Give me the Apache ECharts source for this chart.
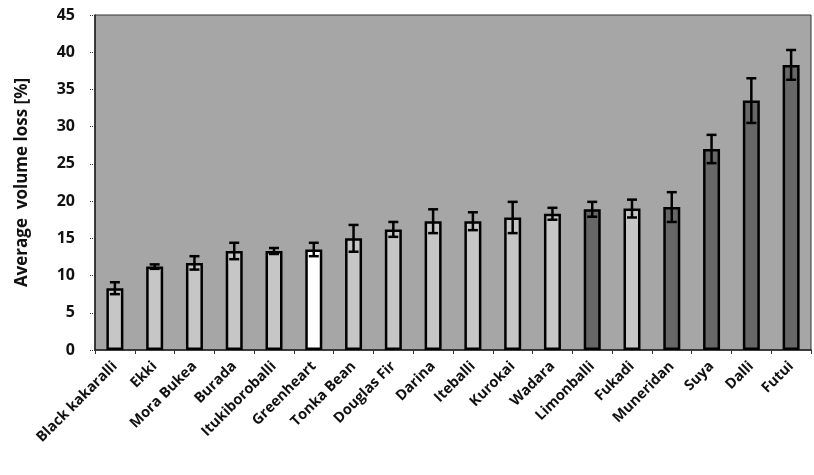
<!DOCTYPE html>
<html>
<head>
<meta charset="utf-8">
<script src="https://cdn.jsdelivr.net/npm/echarts@6/dist/echarts.min.js"></script>
<style>
  html, body { margin: 0; padding: 0; background: #ffffff; }
  #chart { width: 814px; height: 475px; }
</style>
</head>
<body>
<div id="chart"></div>
<script>
// Especies de madera (eje X)
const species = [
  "Black kakaralli", "Ekki", "Mora Bukea", "Burada", "Itukiboroballi",
  "Greenheart", "Tonka Bean", "Douglas Fir", "Darina", "Iteballi",
  "Kurokai", "Wadara", "Limonballi", "Fukadi", "Muneridan",
  "Suya", "Dalli", "Futui"
];

// Pérdida media de volumen [%]
const meanLoss = [
  8.3, 11.2, 11.7, 13.3, 13.3,
  13.5, 15.0, 16.2, 17.3, 17.3,
  17.8, 18.3, 18.9, 19.0, 19.2,
  27.0, 33.5, 38.3
];

// Desviación (barras de error)
const errLoss = [
  0.8, 0.3, 0.9, 1.1, 0.4,
  0.9, 1.8, 1.0, 1.6, 1.2,
  2.1, 0.8, 1.0, 1.2, 2.0,
  1.9, 3.0, 2.0
];

// Tono de relleno de cada barra: 0 = claro, 1 = blanco, 2 = oscuro
const barShade = [
  0, 0, 0, 0, 0,
  1, 0, 0, 0, 0,
  0, 0, 2, 0, 2,
  2, 2, 2
];

const yTicks = { min: 0, max: 45, interval: 5 };

const shadeColors = ["#c6c6c6", "#ffffff", "#676767"];

const chart = echarts.init(document.getElementById("chart"));

const option = {
  backgroundColor: "#ffffff",
  animation: false,
  grid: {
    left: 95, right: 3, top: 15, bottom: 125,
    show: true,
    backgroundColor: "#a6a6a6",
    borderColor: "#333333",
    borderWidth: 1
  },
  xAxis: {
    type: "category",
    data: species,
    axisLine: { lineStyle: { color: "#222", width: 1.5 } },
    axisTick: { show: true, alignWithLabel: false, length: 4, lineStyle: { color: "#333" } },
    axisLabel: {
      rotate: 45,
      interval: 0,
      margin: 14,
      color: "#111",
      fontFamily: "Open Sans",
      fontWeight: "bold",
      fontSize: 14.5
    }
  },
  yAxis: {
    type: "value",
    min: yTicks.min,
    max: yTicks.max,
    interval: yTicks.interval,
    name: "Average  volume loss [%]",
    nameLocation: "middle",
    nameGap: 64,
    nameTextStyle: {
      color: "#111",
      fontFamily: "Open Sans",
      fontWeight: "bold",
      fontSize: 17
    },
    axisLine: { show: true, lineStyle: { color: "#222", width: 1.5 } },
    axisTick: { show: true, length: 6, lineStyle: { color: "#333", type: "dotted" } },
    splitLine: { show: false },
    axisLabel: {
      color: "#111",
      fontFamily: "Open Sans",
      fontWeight: "bold",
      fontSize: 16,
      margin: 20
    }
  },
  series: [
    {
      type: "bar",
      barWidth: 17,
      data: meanLoss.map((v, i) => ({
        value: v,
        itemStyle: {
          color: shadeColors[barShade[i]],
          borderColor: "#000",
          borderWidth: 2.5
        }
      }))
    },
    {
      type: "custom",
      data: meanLoss.map((v, i) => [i, v - errLoss[i], v + errLoss[i]]),
      renderItem: function (params, api) {
        const lo = api.coord([api.value(0), api.value(1)]);
        const hi = api.coord([api.value(0), api.value(2)]);
        const hw = 5;
        const style = { stroke: "#000", lineWidth: 2.5 };
        return {
          type: "group",
          children: [
            { type: "line", shape: { x1: hi[0], y1: hi[1], x2: lo[0], y2: lo[1] }, style: style },
            { type: "line", shape: { x1: hi[0] - hw, y1: hi[1], x2: hi[0] + hw, y2: hi[1] }, style: style },
            { type: "line", shape: { x1: lo[0] - hw, y1: lo[1], x2: lo[0] + hw, y2: lo[1] }, style: style }
          ]
        };
      },
      z: 10
    }
  ]
};

chart.setOption(option);
</script>
</body>
</html>
